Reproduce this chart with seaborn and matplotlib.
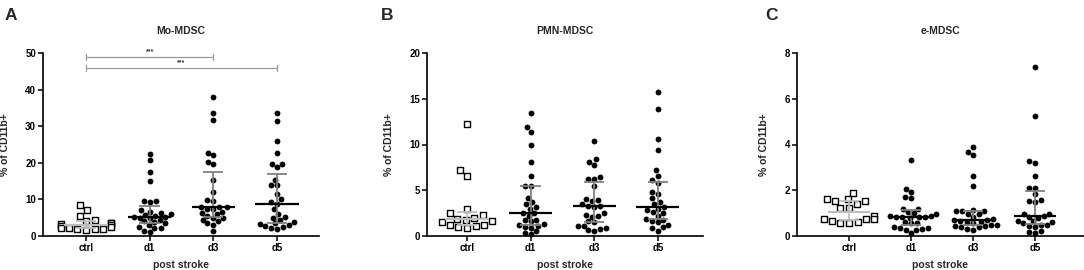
import numpy as np
import pandas as pd
import matplotlib
matplotlib.use("Agg")
import matplotlib.pyplot as plt
import seaborn as sns

groups = ["ctrl", "d1", "d3", "d5"]

# Panel A: Mo-MDSC
mo_ctrl = [8.5, 7.0, 5.6, 4.5, 4.0, 3.5, 3.5, 3.3, 3.0, 2.8, 2.5, 2.3, 2.2, 2.0, 2.0, 1.8, 1.7]
mo_d1 = [22.4, 20.8, 17.6, 14.9, 9.5, 9.5, 9.4, 7.0, 6.5, 6.2, 6.0, 5.8, 5.5, 5.3, 5.2, 5.0, 4.8,
         4.5, 4.0, 3.8, 3.5, 3.0, 2.5, 2.3, 2.2, 1.5, 1.2]
mo_d3 = [38.1, 33.5, 31.7, 22.7, 22.0, 20.2, 19.6, 15.2, 12.1, 9.8, 9.5, 8.0, 7.8, 7.8, 7.5, 7.5,
         6.6, 6.2, 6.0, 5.5, 5.0, 4.8, 4.5, 4.0, 3.5, 3.0, 1.4]
mo_d5 = [33.5, 31.4, 26.0, 22.8, 19.8, 19.7, 18.8, 15.3, 14.0, 13.8, 11.5, 10.0, 9.3, 8.7, 7.3,
         6.0, 5.3, 5.0, 4.5, 3.7, 3.5, 3.3, 3.0, 2.8, 2.5, 2.1, 2.0]

# Panel B: PMN-MDSC
pmn_ctrl = [12.2, 7.2, 6.6, 3.0, 2.5, 2.3, 2.0, 1.9, 1.8, 1.6, 1.5, 1.2, 1.2, 1.1, 1.0, 0.9]
pmn_d1 = [13.4, 11.9, 11.4, 9.9, 8.1, 6.6, 5.5, 5.5, 4.2, 3.7, 3.5, 3.2, 3.0, 2.5, 2.5, 2.2, 1.8,
          1.7, 1.6, 1.3, 1.2, 1.1, 1.0, 0.9, 0.5, 0.3, 0.2]
pmn_d3 = [10.4, 8.4, 8.1, 7.8, 6.4, 6.2, 6.2, 5.5, 4.0, 3.9, 3.8, 3.5, 3.3, 3.3, 3.2, 2.5, 2.3,
          2.2, 2.1, 1.6, 1.5, 1.1, 1.1, 0.9, 0.8, 0.7, 0.5]
pmn_d5 = [15.7, 13.9, 10.6, 9.4, 7.2, 6.6, 6.1, 5.8, 4.8, 4.6, 4.1, 3.7, 3.5, 3.2, 3.0, 2.8, 2.6,
          2.5, 2.2, 1.9, 1.8, 1.6, 1.5, 1.2, 1.0, 0.9, 0.6]

# Panel C: e-MDSC
e_ctrl = [1.89, 1.63, 1.60, 1.53, 1.53, 1.42, 1.24, 1.24, 0.87, 0.76, 0.73, 0.73, 0.67, 0.61, 0.58, 0.55]
e_d1 = [3.34, 2.05, 1.92, 1.70, 1.65, 1.20, 1.18, 1.05, 1.00, 0.95, 0.88, 0.86, 0.85, 0.84, 0.83,
        0.82, 0.80, 0.62, 0.58, 0.55, 0.40, 0.35, 0.33, 0.30, 0.28, 0.25, 0.12]
e_d3 = [3.88, 3.66, 3.54, 2.63, 2.19, 1.12, 1.10, 1.10, 1.08, 0.97, 0.95, 0.85, 0.75, 0.72, 0.70,
        0.65, 0.62, 0.60, 0.58, 0.50, 0.48, 0.45, 0.42, 0.40, 0.38, 0.30, 0.28]
e_d5 = [7.40, 5.24, 3.29, 3.20, 2.63, 2.10, 2.10, 1.84, 1.57, 1.55, 1.50, 0.97, 0.95, 0.88, 0.85,
        0.80, 0.65, 0.64, 0.62, 0.55, 0.48, 0.47, 0.45, 0.40, 0.20, 0.16, 0.14]

titles = ["Mo-MDSC", "PMN-MDSC", "e-MDSC"]
letters = ["A", "B", "C"]
yticks = [[0, 10, 20, 30, 40, 50], [0, 5, 10, 15, 20], [0, 2, 4, 6, 8]]
ylims = [50, 20, 8]
ylabel = "% of CD11b+"
xlabel = "post stroke"
sig_pairs = [("ctrl", "d3", 48.9, "***"), ("ctrl", "d5", 45.9, "***")]

panel_data = [
    [mo_ctrl, mo_d1, mo_d3, mo_d5],
    [pmn_ctrl, pmn_d1, pmn_d3, pmn_d5],
    [e_ctrl, e_d1, e_d3, e_d5],
]

sns.set_style("ticks")
plt.rcParams["font.family"] = ["Liberation Sans", "DejaVu Sans"]
plt.rcParams["font.weight"] = "bold"
plt.rcParams["axes.labelweight"] = "bold"
plt.rcParams["axes.titleweight"] = "bold"

W, H = 1084, 270
fig = plt.figure(figsize=(W / 100, H / 100), dpi=100)

# axes boxes in pixels (left, right, top, bottom) and x-limits
boxes = [(43, 319, 53, 236), (427, 703, 53, 236), (797, 1084, 53, 236)]
xlims = [(-0.675, 3.66), (-0.63, 3.71), (-0.84, 3.79)]
letter_pos = [(11, 15), (387, 15), (771, 15)]

for k in range(3):
    l, r, t, b = boxes[k]
    ax = fig.add_axes([l / W, 1 - b / H, (r - l) / W, (b - t) / H])
    rows = []
    for g, vals in zip(groups, panel_data[k]):
        for v in vals:
            rows.append((g, v))
    df = pd.DataFrame(rows, columns=["group", "value"])

    sns.swarmplot(data=df[df.group == "ctrl"], x="group", y="value", order=groups,
                  marker="s", color="white", edgecolor="black", linewidth=1.0,
                  size=5.0, ax=ax, zorder=3, warn_thresh=1)
    sns.swarmplot(data=df[df.group != "ctrl"], x="group", y="value", order=groups,
                  marker="o", color="black", linewidth=0, size=4.2, ax=ax,
                  zorder=3, warn_thresh=1)
    for coll in ax.collections:
        coll.set_clip_on(False)

    # median with interquartile range
    for i, g in enumerate(groups):
        vals = np.array(panel_data[k][i])
        med = np.median(vals)
        q1, q3 = np.percentile(vals, [25, 75])
        ecol = "#bdbdbd" if g == "ctrl" else "#808080"
        mcol = "#bdbdbd" if g == "ctrl" else "black"
        ax.vlines(i, q1, q3, color=ecol, lw=1.3, zorder=4)
        ax.hlines([q1, q3], i - 0.16, i + 0.16, color=ecol, lw=1.3, zorder=4)
        ax.hlines(med, i - 0.34, i + 0.34, color=mcol, lw=1.6, zorder=5)

    ax.set_xlim(*xlims[k])
    ax.set_ylim(0, ylims[k])
    ax.set_yticks(yticks[k])
    ax.set_xticks(range(len(groups)))
    ax.set_xticklabels(groups)
    ax.tick_params(axis="both", labelsize=7, length=3.5, width=1.1, pad=1.5, colors="black")
    for lab in ax.get_xticklabels() + ax.get_yticklabels():
        lab.set_fontweight("bold")
    sns.despine(ax=ax)
    for s in ["left", "bottom"]:
        ax.spines[s].set_linewidth(1.2)
        ax.spines[s].set_color("black")
    ax.set_ylabel(ylabel, fontsize=7.5, fontweight="bold", labelpad=11)
    ax.set_xlabel(xlabel, fontsize=7.5, fontweight="bold", labelpad=5)
    ax.set_title(titles[k], fontsize=7.5, fontweight="bold", pad=14)
    ax.set_facecolor("white")
    lx, ly = letter_pos[k]
    fig.text(lx / W, 1 - ly / H, letters[k], fontsize=12.5, fontweight="bold",
             ha="center", va="center")

    if k == 0:
        for g1, g2, yv, txt in sig_pairs:
            x1, x2 = groups.index(g1), groups.index(g2)
            ax.plot([x1, x2], [yv, yv], color="#9a9a9a", lw=0.9, clip_on=False, zorder=2)
            for xx in (x1, x2):
                ax.plot([xx, xx], [yv - 0.7, yv + 0.7], color="#9a9a9a", lw=0.9,
                        clip_on=False, zorder=2)
            ax.text((x1 + x2) / 2, yv + 0.6, txt, fontsize=5, ha="center", va="bottom",
                    color="#333333")

fig.savefig("out.png", dpi=100, facecolor="white")
